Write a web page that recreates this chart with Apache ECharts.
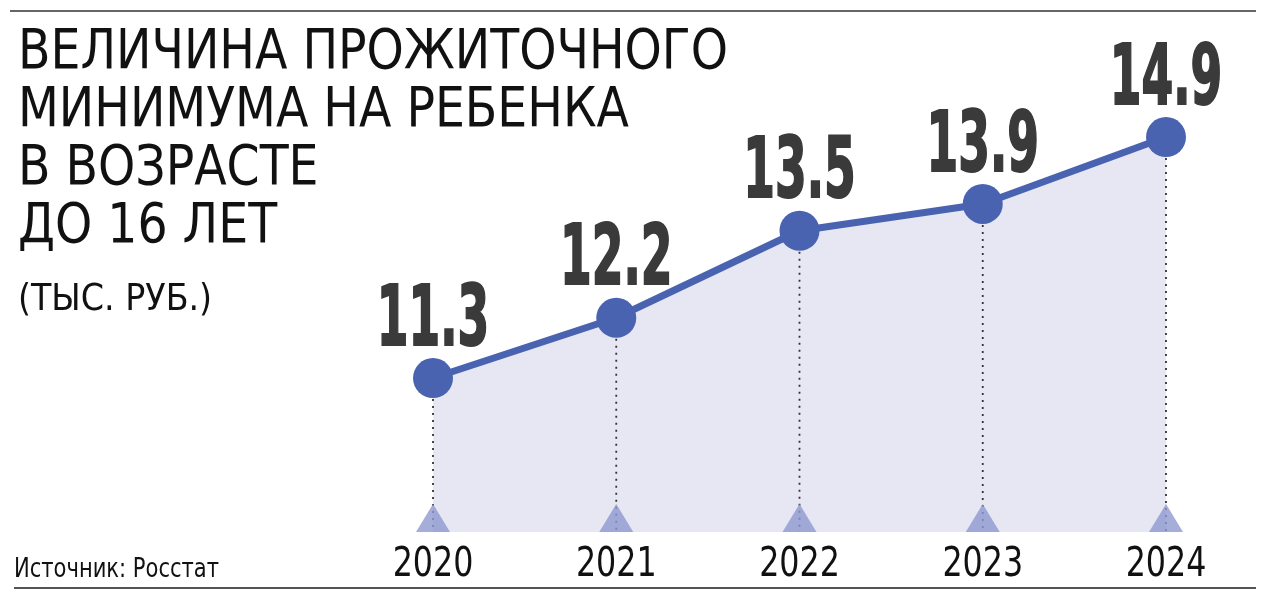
<!DOCTYPE html>
<html><head><meta charset="utf-8">
<script src="https://cdn.jsdelivr.net/npm/echarts@6/dist/echarts.min.js"></script>
<style>html,body{margin:0;padding:0;background:#fff}#c{width:1280px;height:601px}</style>
</head><body><div id="c"></div>
<script>
const years = ['2020','2021','2022','2023','2024'];
const values = [11.3, 12.2, 13.5, 13.9, 14.9];
const titleLines = ['ВЕЛИЧИНА ПРОЖИТОЧНОГО','МИНИМУМА НА РЕБЕНКА','В ВОЗРАСТЕ','ДО 16 ЛЕТ'];
const unitText = '(ТЫС. РУБ.)';
const sourceText = 'Источник: Росстат';
const Y_MIN = 9, Y_MAX = 16;

const FONT = '"DejaVu Sans Condensed","DejaVu Sans",sans-serif';
const pts = values.map((v, i) => [i, v]);
const chart = echarts.init(document.getElementById('c'));
chart.setOption({
  animation: false,
  backgroundColor: '#fff',
  grid: {left: 433, right: 114, top: 63.4, bottom: 69},
  xAxis: {
    type: 'category', data: years, boundaryGap: false,
    axisLine: {show: false}, axisTick: {show: false}, splitLine: {show: false},
    axisLabel: {show: false}
  },
  yAxis: {type: 'value', min: Y_MIN, max: Y_MAX, show: false},
  graphic: [
    {type: 'line', shape: {x1: 10, y1: 11, x2: 1256, y2: 11}, style: {stroke: '#333', lineWidth: 1.5}},
    {type: 'line', shape: {x1: 14, y1: 588, x2: 1256, y2: 588}, style: {stroke: '#555', lineWidth: 2}},
    {type: 'text', x: 18, y: 24.5, scaleX: 0.94, style: {text: titleLines.join('\n'), font: '56px ' + FONT, lineHeight: 58, fill: '#111'}},
    {type: 'text', x: 18, y: 280, scaleX: 0.975, style: {text: unitText, font: '38px ' + FONT, lineHeight: 40, fill: '#111'}},
    {type: 'text', x: 14, y: 556, scaleX: 0.9, style: {text: sourceText, font: '26px ' + FONT, lineHeight: 28, fill: '#111'}}
  ],
  series: [
    {
      type: 'line', data: values, z: 1, symbol: 'none', silent: true,
      lineStyle: {width: 0}, areaStyle: {color: '#e6e7f3', opacity: 1}
    },
    {
      type: 'custom', data: pts, z: 2, silent: true,
      renderItem: (params, api) => {
        const top = api.coord([api.value(0), api.value(1)]);
        const bot = api.coord([api.value(0), Y_MIN]);
        return {type: 'line', shape: {x1: top[0], y1: top[1], x2: bot[0], y2: bot[1]},
          style: {stroke: '#333', lineWidth: 1.8, lineDash: [2, 5]}};
      }
    },
    {
      type: 'line', data: values, z: 3, symbol: 'circle', symbolSize: 40,
      lineStyle: {color: '#4a63b1', width: 7}, itemStyle: {color: '#4a63b1'}
    },
    {
      type: 'scatter', data: years.map(() => Y_MIN), z: 4, symbol: 'triangle',
      symbolSize: [34, 28], symbolOffset: [0, -14], itemStyle: {color: '#8e99cf'}, silent: true
    },
    {
      type: 'custom', data: pts, z: 5, silent: true,
      renderItem: (params, api) => {
        const p = api.coord([api.value(0), api.value(1)]);
        return {type: 'text', x: p[0], y: p[1] - 55, scaleX: 0.61,
          style: {text: api.value(1).toFixed(1), x: 0, y: 0, align: 'center', verticalAlign: 'middle',
            font: 'bold 83px ' + FONT, fill: '#3a3a3a', stroke: '#3a3a3a', lineWidth: 2}};
      }
    },
    {
      type: 'custom', data: years.map((y, i) => [i, Y_MIN]), z: 5, silent: true,
      renderItem: (params, api) => {
        const p = api.coord([api.value(0), Y_MIN]);
        return {type: 'text', x: p[0], y: p[1] + 33, scaleX: 0.86,
          style: {text: years[api.value(0)], x: 0, y: 0, align: 'center', verticalAlign: 'middle',
            font: '41px ' + FONT, fill: '#111'}};
      }
    }
  ]
});
</script></body></html>
